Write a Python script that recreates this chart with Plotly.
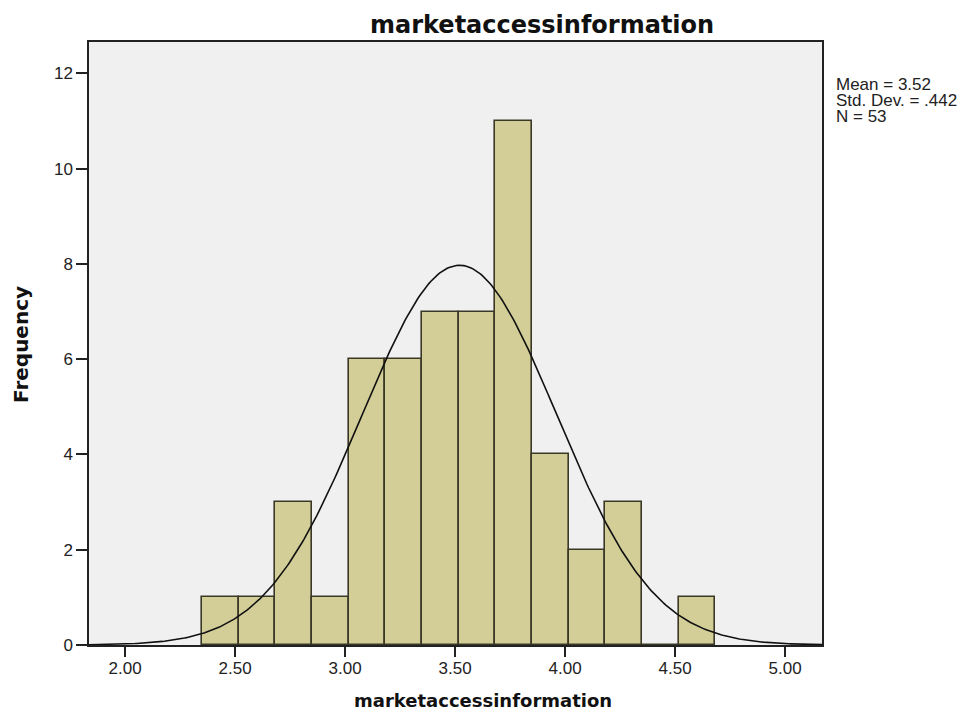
import numpy as np
import plotly.graph_objects as go

# ---- data ----
bin_start = 2.35
bin_width = 1 / 6
counts = [1, 1, 3, 1, 6, 6, 7, 7, 11, 4, 2, 3, 0, 1]
x_ticks = [2.0, 2.5, 3.0, 3.5, 4.0, 4.5, 5.0]
x_tick_labels = ["2.00", "2.50", "3.00", "3.50", "4.00", "4.50", "5.00"]
y_ticks = [0, 2, 4, 6, 8, 10, 12]
mean_val = 3.52
std_val = 0.442
n_val = 53
title_text = "marketaccessinformation"
x_range = [1.836, 5.168]
y_range = [0, 12.66]

centers = [bin_start + bin_width * (i + 0.5) for i in range(len(counts))]

# normal curve overlay from the stated mean / sd / N (as SPSS draws it)
xs = np.linspace(x_range[0], x_range[1], 400)
ys = n_val * bin_width * np.exp(-0.5 * ((xs - mean_val) / std_val) ** 2) / (std_val * np.sqrt(2 * np.pi))

# layout geometry (page body adds 8px offset)
PL, PT, PW, PH = 81, 34, 733, 603

fig = go.Figure()
fig.add_trace(go.Bar(
    x=centers, y=counts, width=[bin_width] * len(counts),
    marker=dict(color="#D3CE98", line=dict(color="#3A3826", width=1.6)),
    showlegend=False, hoverinfo="skip",
))
fig.add_trace(go.Scatter(
    x=xs, y=ys, mode="lines", line=dict(color="#111111", width=1.6),
    showlegend=False, hoverinfo="skip",
))

def px_x(px):  # page x (reference pixels) -> paper x
    return (px - 8 - PL) / PW

def px_y(py):  # page y (reference pixels) -> paper y
    return 1 - (py - 8 - PT) / PH

stats_lines = [
    "Mean = %.2f" % mean_val,
    "Std. Dev. = .%d" % round(std_val * 1000),
    "N = %d" % n_val,
]
stats_y = [84, 100, 116]

annotations = [
    dict(text="<b>" + title_text + "</b>", xref="paper", yref="paper",
         x=px_x(542), y=px_y(25), xanchor="center", yanchor="middle",
         showarrow=False, font=dict(family="DejaVu Sans", size=24, color="#111111")),
    dict(text="<b>" + title_text + "</b>", xref="paper", yref="paper",
         x=px_x(483), y=px_y(700), xanchor="center", yanchor="middle",
         showarrow=False, font=dict(family="DejaVu Sans", size=18, color="#111111")),
    dict(text="<b>Frequency</b>", xref="paper", yref="paper",
         x=px_x(21), y=px_y(345), xanchor="center", yanchor="middle",
         textangle=-90, showarrow=False,
         font=dict(family="DejaVu Sans", size=20, color="#111111")),
]
for line, yy in zip(stats_lines, stats_y):
    annotations.append(dict(
        text=line, xref="paper", yref="paper", x=px_x(835), y=px_y(yy),
        xanchor="left", yanchor="middle", showarrow=False, borderpad=0,
        font=dict(size=17, color="#222222")))

fig.update_layout(
    width=966, height=704,
    margin=dict(l=PL, r=966 - PL - PW, t=PT, b=704 - PT - PH),
    paper_bgcolor="white", plot_bgcolor="#F0F0F0",
    bargap=0,
    font=dict(family="Liberation Sans, Arial, sans-serif", color="#222222"),
    xaxis=dict(
        range=x_range, tickvals=x_ticks, ticktext=x_tick_labels,
        showgrid=False, zeroline=False, showline=True, linecolor="#222222", linewidth=1.5,
        mirror=True, ticks="outside", ticklen=10, tickcolor="#222222", tickwidth=1.5,
        ticklabelstandoff=-3,
        tickfont=dict(size=17, color="#222222"),
    ),
    yaxis=dict(
        range=y_range, tickvals=y_ticks,
        showgrid=False, zeroline=False, showline=True, linecolor="#222222", linewidth=1.5,
        mirror=True, ticks="outside", ticklen=11, tickcolor="#222222", tickwidth=1.5,
        tickfont=dict(size=17, color="#222222"),
    ),
    annotations=annotations,
)

fig.write_html("out.html")
